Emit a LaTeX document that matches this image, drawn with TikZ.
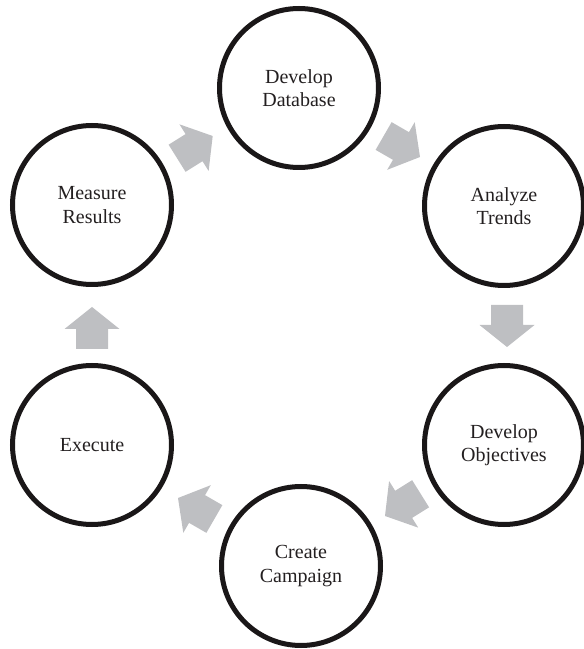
\documentclass[tikz,border=0pt]{standalone}
\usepackage{fontspec}
\setmainfont{Liberation Serif}
\definecolor{ringcol}{RGB}{26,23,24}
\definecolor{txtcol}{RGB}{35,31,32}
\definecolor{arrcol}{RGB}{190,191,194}
\begin{document}
\begin{tikzpicture}[x=1pt,y=1pt,
  stage/.style={circle,draw=ringcol,line width=5pt,minimum size=159pt,inner sep=0pt,
    align=center,text=txtcol,font=\fontsize{20}{23.5}\selectfont},
  blockarrow/.style={fill=arrcol,draw=none}]
\useasboundingbox (0,0) rectangle (584,649);
\node[stage] (db) at (299,561) {Develop\\Database};
\node[stage] (at) at (504,443) {Analyze\\Trends};
\node[stage] (do) at (504,204) {Develop\\Objectives};
\node[stage] (cc) at (301,83) {Create\\Campaign};
\node[stage] (ex) at (92,204) {Execute};
\node[stage] (mr) at (92,444) {Measure\\Results};
\foreach \nm/\tx/\ty/\ang in {a1/212.7/513/32, a2/420/492/-30, a3/507/302/-90,
                              a4/385/133/212, a5/178/151/150, a6/92/342/90}{
  \begin{scope}[shift={(\tx,\ty)},rotate=\ang]
    \coordinate (\nm) at (0,0);
    \fill[blockarrow] (0,0) -- (-22,27.5) -- (-22,16) -- (-42,16) -- (-42,-16)
      -- (-22,-16) -- (-22,-27.5) -- cycle;
  \end{scope}
}
\end{tikzpicture}
\end{document}
